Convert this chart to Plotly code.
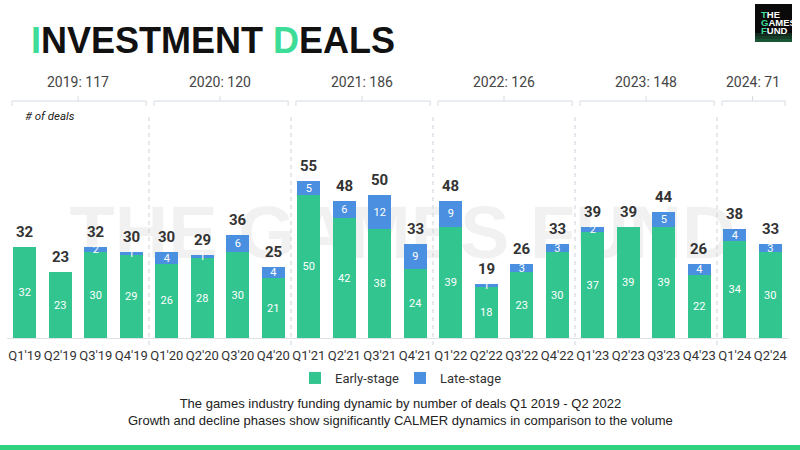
import plotly.graph_objects as go

# ---------------- data ----------------
quarters = ["Q1'19", "Q2'19", "Q3'19", "Q4'19", "Q1'20", "Q2'20", "Q3'20", "Q4'20",
            "Q1'21", "Q2'21", "Q3'21", "Q4'21", "Q1'22", "Q2'22", "Q3'22", "Q4'22",
            "Q1'23", "Q2'23", "Q3'23", "Q4'23", "Q1'24", "Q2'24"]
early_stage = [32, 23, 30, 29, 26, 28, 30, 21, 50, 42, 38, 24, 39, 18, 23, 30, 37, 39, 39, 22, 34, 30]
late_stage = [0, 0, 2, 1, 4, 1, 6, 4, 5, 6, 12, 9, 9, 1, 3, 3, 2, 0, 5, 4, 4, 3]
year_labels = ["2019: 117", "2020: 120", "2021: 186", "2022: 126", "2023: 148", "2024: 71"]
year_first_idx = [0, 4, 8, 12, 16, 20]
year_last_idx = [3, 7, 11, 15, 19, 21]

totals = [e + l for e, l in zip(early_stage, late_stage)]

# ---------------- layout helpers ----------------
W, H = 800, 450
ML, MR, MT, MB = 7, 12, 101, 112
PW, PH = W - ML - MR, H - MT - MB

def px(xp):
    return (xp - ML) / PW

def py(yp):
    return (H - MB - yp) / PH

GREEN = "#33c58f"
BLUE = "#4a8fe0"
TITLE_GREEN = "#3ddc97"

fig = go.Figure()

fig.add_trace(go.Bar(
    x=quarters, y=early_stage, name="Early-stage",
    marker=dict(color=GREEN, line=dict(width=0)),
    text=[str(v) if v else "" for v in early_stage],
    textposition="inside", insidetextanchor="middle", textangle=0,
    textfont=dict(color="white", size=11, family="Roboto"),
    hoverinfo="skip",
))
fig.add_trace(go.Bar(
    x=quarters, y=late_stage, name="Late-stage",
    marker=dict(color=BLUE, line=dict(width=0)),
    text=[str(v) if v else "" for v in late_stage],
    textposition="inside", insidetextanchor="middle", textangle=0,
    textfont=dict(color="white", size=11, family="Roboto"),
    hoverinfo="skip",
))

shapes = []
annotations = []

# totals above bars
for q, t in zip(quarters, totals):
    annotations.append(dict(x=q, y=t, xref="x", yref="y", text=f"<b>{t}</b>",
                            showarrow=False, xanchor="center", yanchor="bottom", yshift=4,
                            font=dict(size=15, color="#333333", family="Roboto")))

# watermark
shapes.append(dict(type="rect", xref="paper", yref="paper",
                   x0=px(60), x1=px(745), y0=py(260), y1=py(190),
                   line=dict(width=0), fillcolor="rgba(0,0,0,0)", layer="below",
                   label=dict(text="<b>THE GAMES FUND</b>",
                              font=dict(size=74, color="rgba(0,0,0,0.055)", family="Liberation Sans"))))

# year separators (dashed)
for i in year_first_idx[1:]:
    shapes.append(dict(type="line", xref="x", yref="paper", x0=i - 0.5, x1=i - 0.5,
                       y0=py(345), y1=py(115),
                       line=dict(color="#c9d3de", width=1, dash="4px,4px")))

# year brackets + labels
for lab, a, b in zip(year_labels, year_first_idx, year_last_idx):
    x0, x1 = a - 0.36, b + 0.42
    xc = (a + b) / 2
    yl = py(101)
    shapes.append(dict(type="path", xref="x", yref="paper",
                       path=f"M {x0},{py(106)} L {x0},{yl} L {x1},{yl} L {x1},{py(106)}",
                       line=dict(color="#d4dbe3", width=1)))
    shapes.append(dict(type="line", xref="x", yref="paper", x0=xc, x1=xc,
                       y0=yl, y1=py(96), line=dict(color="#d4dbe3", width=1)))
    annotations.append(dict(x=xc, y=py(82), xref="x", yref="paper", text=lab,
                            showarrow=False, font=dict(size=14, color="#444444", family="Roboto"),
                            xanchor="center", yanchor="middle"))

# "# of deals"
annotations.append(dict(x=px(23), y=py(116), xref="paper", yref="paper",
                        text="<i># of deals</i>", showarrow=False, xanchor="left", yanchor="middle",
                        font=dict(size=11.5, color="#222222", family="Roboto")))

# title
annotations.append(dict(x=px(29), y=py(40), xref="paper", yref="paper",
                        text=f"<b><span style='color:{TITLE_GREEN}'>I</span>NVESTMENT "
                             f"<span style='color:{TITLE_GREEN}'>D</span>EALS</b>",
                        showarrow=False, xanchor="left", yanchor="middle",
                        font=dict(size=36, color="#111111", family="Liberation Sans")))

# logo
shapes.append(dict(type="rect", xref="paper", yref="paper",
                   x0=px(755), x1=px(792), y0=py(42), y1=py(4),
                   fillcolor="#0a0a0a", line=dict(width=0)))
for yy, op in [(33, 0.18), (36, 0.28), (39, 0.4)]:
    shapes.append(dict(type="rect", xref="paper", yref="paper",
                       x0=px(755), x1=px(792), y0=py(yy + 3), y1=py(yy),
                       fillcolor=f"rgba(50,200,120,{op})", line=dict(width=0)))
for first, word, yy in [("T", "HE", 14), ("G", "AMES", 22), ("F", "UND", 30)]:
    annotations.append(dict(x=px(759), y=py(yy), xref="paper", yref="paper",
                            text=f"<b><span style='color:{TITLE_GREEN}'>{first}</span>{word}</b>",
                            showarrow=False, xanchor="left", yanchor="middle",
                            font=dict(size=9.5, color="white", family="Liberation Sans")))

# subtitle
annotations.append(dict(x=px(400), y=py(412), xref="paper", yref="paper",
                        text="The games industry funding dynamic by number of deals Q1 2019 - Q2 2022<br>"
                             "Growth and decline phases show significantly CALMER dynamics in comparison to the volume",
                        showarrow=False, xanchor="center", yanchor="middle", align="center",
                        font=dict(size=13, color="#222222", family="Liberation Sans")))

# bottom green band
shapes.append(dict(type="rect", xref="paper", yref="paper",
                   x0=px(0), x1=px(800), y0=py(450), y1=py(445),
                   fillcolor="#2fd27e", line=dict(width=0)))

fig.update_layout(
    width=W, height=H,
    margin=dict(l=ML, r=MR, t=MT, b=MB, pad=0),
    paper_bgcolor="white", plot_bgcolor="rgba(0,0,0,0)",
    barmode="stack", bargap=0.35,
    font=dict(family="Roboto", color="#333333"),
    uniformtext=dict(minsize=11, mode="show"),
    showlegend=True,
    legend=dict(orientation="h", x=px(400), xanchor="center", y=py(378), yanchor="middle",
                traceorder="normal", entrywidth=60, itemwidth=30,
                font=dict(size=13, color="#333333", family="Roboto"),
                bgcolor="rgba(0,0,0,0)"),
    xaxis=dict(type="category", showgrid=False, zeroline=False, showline=True,
               linecolor="#dde3e8", linewidth=1, ticks="", ticklen=0, tickangle=0,
               ticklabelstandoff=5,
               tickfont=dict(size=13, color="#333333", family="Roboto"),
               range=[-0.5, 21.5], fixedrange=True),
    yaxis=dict(range=[0, 83], showgrid=False, zeroline=False, showticklabels=False,
               showline=False, fixedrange=True),
    shapes=shapes, annotations=annotations,
)

fig.write_html("out.html")
